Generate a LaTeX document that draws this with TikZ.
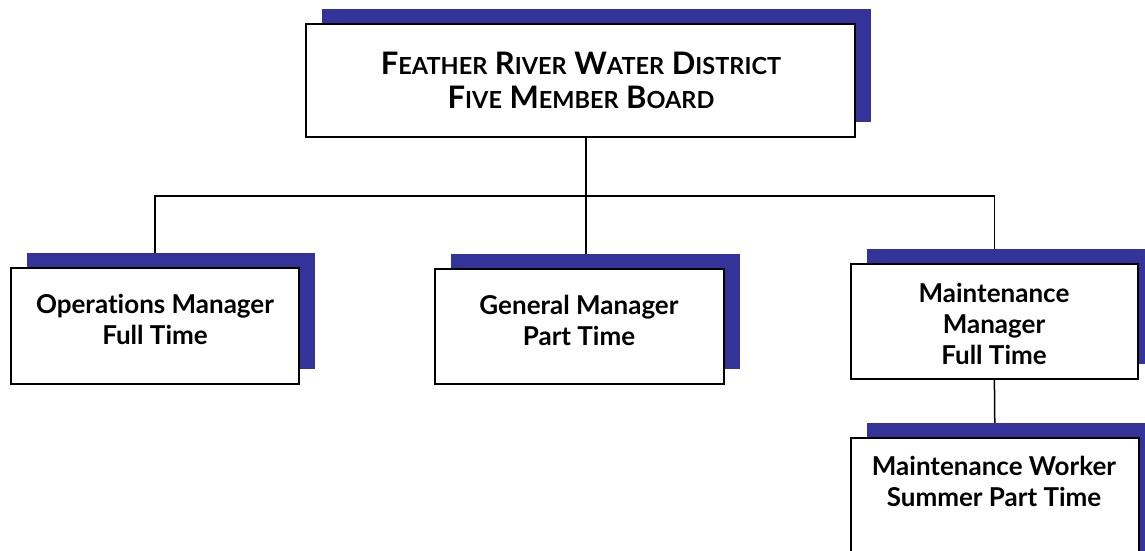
\documentclass[tikz,border=0pt]{standalone}
\usepackage{fontspec}
\setmainfont{Lato}[Ligatures=NoCommon]
\usetikzlibrary{shadows}
\definecolor{shadowblue}{RGB}{51,51,153}
\pgfdeclarelayer{background}
\pgfsetlayers{background,main}
\newcommand{\SCap}[2]{#1{\fontsize{23.5}{34}\selectfont #2}}
\tikzset{
  orgbox/.style={draw=black, line width=1.8pt, fill=white, rectangle, inner sep=0pt,
    anchor=north west,
    general shadow={fill=shadowblue, shadow xshift=16pt, shadow yshift=15pt}},
  boxtext/.style={align=center, inner sep=0pt, font=\fontsize{26}{31}\selectfont\bfseries},
  titletext/.style={align=center, inner sep=0pt, font=\fontsize{31}{34}\selectfont\bfseries},
  link/.style={draw=black, line width=1.5pt}
}
\begin{document}
\begin{tikzpicture}[x=1pt,y=-1pt]
\useasboundingbox (0,0) rectangle (1145,550);
\clip (0,0) rectangle (1145,550);
% boxes
\node[orgbox, minimum width=549pt, minimum height=113pt] (top) at (305,23) {};
\node[orgbox, minimum width=288pt, minimum height=116pt] (ops) at (10,267) {};
\node[orgbox, minimum width=289pt, minimum height=115pt] (gm) at (434,268) {};
\node[orgbox, minimum width=287pt, minimum height=115pt] (mm) at (850,263) {};
\node[orgbox, minimum width=288pt, minimum height=130pt] (mw) at (850,437) {};
% texts
\node[titletext] (topT) at (581,80) {\SCap{F}{EATHER} \SCap{R}{IVER} \SCap{W}{ATER} \SCap{D}{ISTRICT}\\\SCap{F}{IVE} \SCap{M}{EMBER} \SCap{B}{OARD}};
\node[boxtext] (opsT) at (155,319) {Operat\kern0pt ions Manager\\Full Time};
\node[boxtext] (gmT) at (579,320) {General Manager\\Part Time};
\node[boxtext] (mmT) at (994,324) {Maintenance\\Manager\\Full Time};
\node[boxtext] (mwT) at (994,481) {Maintenance Worker\\Summer Part Time};
% connectors
\coordinate (hub) at (586,196);
\begin{pgfonlayer}{background}
\draw[link] (top.south -| hub) -- (hub) -- (gm.north -| hub);
\draw[link] (ops.north) -- (ops.north |- hub) -- (mm.north |- hub) -- (mm.north);
\draw[link] (mm.south) -- (mw.north);
\end{pgfonlayer}
\end{tikzpicture}
\end{document}
